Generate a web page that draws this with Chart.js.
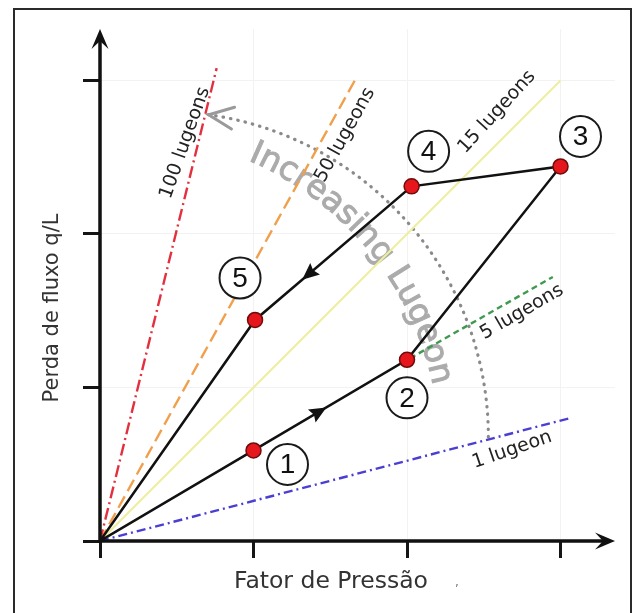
<!DOCTYPE html>
<html>
<head>
<meta charset="utf-8">
<script src="https://cdn.jsdelivr.net/npm/chart.js@4.4.1/dist/chart.umd.min.js"></script>
<style>
  html, body { margin: 0; padding: 0; background: #fff; }
</style>
</head>
<body>
<canvas id="lugeon" width="640" height="613"></canvas>
<script>
// Test stages: pressure factor (x) and flow loss q/L (y), starting and ending at origin
let pressure = [0, 1.0, 2.0, 3.0, 2.03, 1.01, 0]
let flow = [0, 0.59, 1.18, 2.44, 2.31, 1.44, 0]
let stageNames = ['', '1', '2', '3', '4', '5', '']

// Reference lugeon lines (start / end of each line)
let lugeonNames = ['100 lugeons', '50 lugeons', '15 lugeons', '5 lugeons', '1 lugeon']
let lugeonX = [[0, 0.76], [0, 1.66], [0, 3.0], [2.02, 2.95], [0, 3.06]]
let lugeonY = [[0, 3.08], [0, 3.0], [0, 3.0], [1.19, 1.72], [0, 0.80]]
let lugeonColors = ['#e3303e', '#f0a04c', '#eeeea0', '#3f9a4e', '#4a3fd2']
let lugeonDash = [[12, 4, 2, 4], [13, 6], [], [6, 4], [9, 4, 2, 4]]

let axisTicks = [0, 1, 2, 3]

let xTitle = 'Fator de Pressão'
let yTitle = 'Perda de fluxo q/L'
let arcTitle = 'Increasing Lugeon'

// label placement for each lugeon line (x, y in chart units, angle in degrees)
let lugeonLabelPos = [[0.554, 2.593, -70.5], [1.596, 2.645, -61], [2.586, 2.795, -47.5], [2.749, 1.492, -30], [2.684, 0.593, -19]]
// circled number offsets from each stage point, in px
let stageOffsets = [null, [34, 14], [0, 38], [20, -30], [17, -35], [-15, -42], null]

function arrowHead(ctx, x, y, ang, len, half, notch) {
    ctx.save()
    ctx.translate(x, y)
    ctx.rotate(ang)
    ctx.beginPath()
    ctx.moveTo(0, 0)
    ctx.lineTo(-len, -half)
    ctx.lineTo(-len * notch, 0)
    ctx.lineTo(-len, half)
    ctx.closePath()
    ctx.fill()
    ctx.restore()
}

let decor = {
    id: 'decor',
    beforeDraw(chart) {
        let ctx = chart.ctx
        ctx.save()
        ctx.fillStyle = '#fff'
        ctx.fillRect(0, 0, chart.width, chart.height)
        ctx.strokeStyle = '#2a2a2a'
        ctx.lineWidth = 2
        ctx.strokeRect(14, 9, 617, 620)
        ctx.restore()
    },
    beforeDatasetsDraw(chart) {
        let ctx = chart.ctx
        let xs = chart.scales.x, ys = chart.scales.y
        let unit = xs.getPixelForValue(1) - xs.getPixelForValue(0)
        ctx.save()

        // curved "Increasing Lugeon" text
        let tcx = xs.getPixelForValue(0.163), tcy = ys.getPixelForValue(0.593)
        let R = 2.05 * unit
        ctx.font = '33px "DejaVu Sans"'
        ctx.fillStyle = '#ababab'
        ctx.strokeStyle = '#ababab'
        ctx.lineWidth = 1
        ctx.textAlign = 'center'
        ctx.textBaseline = 'alphabetic'
        let a = -67 * Math.PI / 180
        for (let ch of arcTitle) {
            let w = ctx.measureText(ch).width
            let mid = a + (w / 2) / R
            ctx.save()
            ctx.translate(tcx + R * Math.cos(mid), tcy + R * Math.sin(mid))
            ctx.rotate(mid + Math.PI / 2)
            ctx.fillText(ch, 0, 0)
            ctx.strokeText(ch, 0, 0)
            ctx.restore()
            a += w / R
        }

        // dotted arc with open arrow
        let cx = xs.getPixelForValue(0.41), cy = ys.getPixelForValue(0.678)
        let r = 2.12 * unit
        let end = -1.43
        ctx.strokeStyle = '#8a8a8a'
        ctx.lineWidth = 3.2
        ctx.lineCap = 'round'
        ctx.setLineDash([0.5, 7])
        ctx.beginPath()
        ctx.arc(cx, cy, r, 0, end, true)
        ctx.stroke()
        ctx.setLineDash([])
        let tx = cx + r * Math.cos(end), ty = cy + r * Math.sin(end)
        let dir = Math.atan2(-Math.cos(end), Math.sin(end))
        ctx.lineWidth = 3
        ctx.strokeStyle = '#9a9a9a'
        ctx.beginPath()
        ctx.moveTo(tx - 27 * Math.cos(dir - 0.42), ty - 27 * Math.sin(dir - 0.42))
        ctx.lineTo(tx, ty)
        ctx.lineTo(tx - 27 * Math.cos(dir + 0.42), ty - 27 * Math.sin(dir + 0.42))
        ctx.stroke()
        ctx.restore()
    },
    afterDatasetsDraw(chart) {
        let ctx = chart.ctx
        let xs = chart.scales.x, ys = chart.scales.y
        let area = chart.chartArea
        ctx.save()

        // lugeon line labels
        ctx.font = '19px "DejaVu Sans"'
        ctx.fillStyle = '#222'
        ctx.textAlign = 'center'
        ctx.textBaseline = 'middle'
        lugeonNames.forEach((name, i) => {
            let [lx, ly, ang] = lugeonLabelPos[i]
            ctx.save()
            ctx.translate(xs.getPixelForValue(lx), ys.getPixelForValue(ly))
            ctx.rotate(ang * Math.PI / 180)
            ctx.fillText(name, 0, 0)
            ctx.restore()
        })

        // direction arrows on the path
        let pts = chart.getDatasetMeta(0).data
        ctx.fillStyle = '#111'
        ;[[1, 2, 0.43], [4, 5, 0.66]].forEach(([i, j, f]) => {
            let p = pts[i], q = pts[j]
            let ang = Math.atan2(q.y - p.y, q.x - p.x)
            let ax = p.x + (q.x - p.x) * f, ay = p.y + (q.y - p.y) * f
            arrowHead(ctx, ax + 8 * Math.cos(ang), ay + 8 * Math.sin(ang), ang, 17, 7.5, 0.85)
        })

        // axes with arrows
        let x0 = xs.getPixelForValue(0), y0 = ys.getPixelForValue(0)
        ctx.strokeStyle = '#111'
        ctx.fillStyle = '#111'
        ctx.lineWidth = 3.5
        ctx.beginPath()
        ctx.moveTo(x0, y0 + 1.5)
        ctx.lineTo(x0, area.top + 8)
        ctx.moveTo(x0 - 1.5, y0)
        ctx.lineTo(area.right - 8, y0)
        ctx.stroke()
        arrowHead(ctx, x0, area.top, -Math.PI / 2, 20, 8.5, 0.6)
        arrowHead(ctx, area.right, y0, 0, 20, 8.5, 0.6)

        // circled stage numbers
        ctx.font = '28px "Liberation Sans"'
        ctx.textAlign = 'center'
        ctx.textBaseline = 'middle'
        ctx.lineWidth = 2
        stageNames.forEach((name, i) => {
            if (!name) return
            let cx = pts[i].x + stageOffsets[i][0], cy = pts[i].y + stageOffsets[i][1]
            ctx.beginPath()
            ctx.arc(cx, cy, 20.5, 0, Math.PI * 2)
            ctx.fillStyle = '#fff'
            ctx.fill()
            ctx.strokeStyle = '#1a1a1a'
            ctx.stroke()
            ctx.fillStyle = '#111'
            ctx.fillText(name, cx, cy + 1)
        })

        // axis titles
        ctx.font = '23.5px "DejaVu Sans"'
        ctx.fillStyle = '#333'
        ctx.textBaseline = 'alphabetic'
        ctx.fillText(xTitle, 331, 588)
        ctx.font = '12px "DejaVu Sans"'
        ctx.fillStyle = '#777'
        ctx.fillText(',', 457, 586)
        ctx.font = '21px "DejaVu Sans"'
        ctx.fillStyle = '#333'
        ctx.save()
        ctx.translate(53, 308)
        ctx.rotate(-Math.PI / 2)
        ctx.textBaseline = 'middle'
        ctx.fillText(yTitle, 0, 0)
        ctx.restore()

        ctx.restore()
    }
}

let datasets = [{
    label: 'Ensaio',
    data: pressure.map((p, i) => ({ x: p, y: flow[i] })),
    borderColor: '#111',
    borderWidth: 2.5,
    pointRadius: stageNames.map(n => n ? 7.5 : 0),
    pointBackgroundColor: '#e5161c',
    pointBorderColor: '#6e0b0b',
    pointBorderWidth: 1.5,
    tension: 0
}]
lugeonNames.forEach((name, i) => {
    datasets.push({
        label: name,
        data: lugeonX[i].map((x, k) => ({ x: x, y: lugeonY[i][k] })),
        borderColor: lugeonColors[i],
        borderWidth: i === 2 ? 2 : 2.4,
        borderDash: lugeonDash[i],
        pointRadius: 0,
        tension: 0
    })
})

let gridOpts = {
    color: '#f2f2f2',
    lineWidth: 1,
    drawTicks: true,
    tickLength: 17,
    tickWidth: 3,
    tickColor: '#151515'
}

new Chart(document.getElementById('lugeon'), {
    type: 'line',
    data: { datasets: datasets },
    options: {
        responsive: false,
        animation: false,
        devicePixelRatio: 1,
        layout: { padding: { left: 83, right: 25, top: 29, bottom: 55 } },
        plugins: { legend: { display: false }, tooltip: { enabled: false } },
        scales: {
            x: {
                type: 'linear', min: 0, max: 3.355,
                afterBuildTicks: (s) => { s.ticks = axisTicks.map(v => ({ value: v })) },
                ticks: { display: false },
                grid: gridOpts,
                border: { display: false }
            },
            y: {
                type: 'linear', min: 0, max: 3.335,
                afterBuildTicks: (s) => { s.ticks = axisTicks.map(v => ({ value: v })) },
                ticks: { display: false },
                grid: gridOpts,
                border: { display: false }
            }
        }
    },
    plugins: [decor]
})
</script>
</body>
</html>
